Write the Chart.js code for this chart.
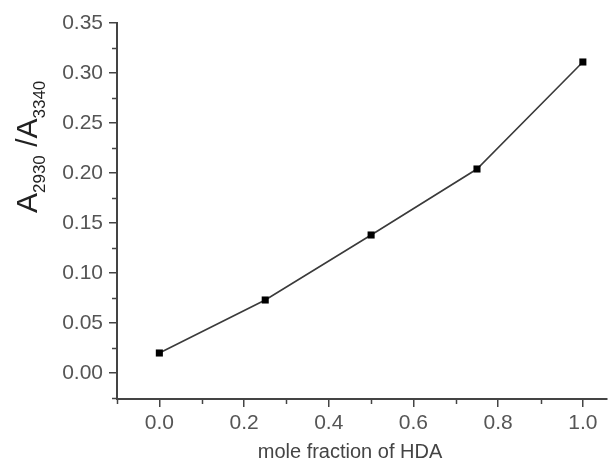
<!DOCTYPE html>
<html><head><meta charset="utf-8">
<script src="https://cdn.jsdelivr.net/npm/chart.js@4/dist/chart.umd.min.js"></script>
<style>html,body{margin:0;padding:0;background:#fff;}#wrap{width:612px;height:461px;position:relative;}</style>
</head><body><div id="wrap"><canvas id="c" width="612" height="461"></canvas></div>
<script>
const moleFraction = [0.0, 0.25, 0.5, 0.75, 1.0];
const ratio = [0.020, 0.073, 0.138, 0.204, 0.311];
const xTicks = [0.0, 0.2, 0.4, 0.6, 0.8, 1.0];
const xMinorTicks = [-0.1, 0.1, 0.3, 0.5, 0.7, 0.9];
const yTicks = [0.00, 0.05, 0.10, 0.15, 0.20, 0.25, 0.30, 0.35];
const yMinorTicks = [-0.025, 0.025, 0.075, 0.125, 0.175, 0.225, 0.275, 0.325];
const xTitle = "mole fraction of HDA";

const FONT = "'Liberation Sans', Arial, sans-serif";
const axisColor = '#444';
const labelColor = '#555';

const extras = {
  id: 'extras',
  afterDraw(chart) {
    const ctx = chart.ctx;
    const xs = chart.scales.x, ys = chart.scales.y;
    ctx.save();
    ctx.strokeStyle = axisColor;
    ctx.lineWidth = 1.5;
    // minor ticks
    yMinorTicks.forEach(v => {
      const y = Math.round(ys.getPixelForValue(v)) + 0.5;
      ctx.beginPath(); ctx.moveTo(xs.left - 5, y); ctx.lineTo(xs.left, y); ctx.stroke();
    });
    xMinorTicks.forEach(v => {
      const x = Math.round(xs.getPixelForValue(v)) + 0.5;
      ctx.beginPath(); ctx.moveTo(x, ys.bottom); ctx.lineTo(x, ys.bottom + 5); ctx.stroke();
    });
    // x title
    ctx.fillStyle = '#444';
    ctx.font = '20px ' + FONT;
    ctx.textAlign = 'center';
    ctx.textBaseline = 'alphabetic';
    ctx.fillText(xTitle, 350, 458);
    // y title with subscripts
    ctx.translate(37, 213);
    ctx.rotate(-Math.PI / 2);
    ctx.fillStyle = '#222';
    ctx.textAlign = 'left';
    let pos = 0;
    const parts = [
      ['A', 30, 0], ['2930', 17, 8], [' /A', 30, 0], ['3340', 17, 8]
    ];
    parts.forEach(([t, s, dy]) => {
      ctx.font = s + 'px ' + FONT;
      ctx.fillText(t, pos, dy);
      pos += ctx.measureText(t).width;
    });
    ctx.restore();
  }
};

new Chart(document.getElementById('c'), {
  type: 'line',
  data: {
    datasets: [{
      data: moleFraction.map((x, i) => ({x: x, y: ratio[i]})),
      borderColor: '#3a3a3a',
      borderWidth: 1.6,
      pointStyle: 'rect',
      pointRadius: 5,
      pointBackgroundColor: '#000',
      pointBorderColor: '#000',
      pointBorderWidth: 0,
      tension: 0,
      clip: false
    }]
  },
  options: {
    responsive: false,
    animation: false,
    devicePixelRatio: 1,
    layout: {padding: {top: 23, right: 0, left: 0, bottom: 0}},
    plugins: {legend: {display: false}, tooltip: {enabled: false}},
    scales: {
      x: {
        type: 'linear', min: -0.1, max: 1.057,
        afterFit(s) { s.height = 62; },
        afterBuildTicks(s) { s.ticks = xTicks.map(v => ({value: v})); },
        grid: {drawOnChartArea: false, drawTicks: true, tickLength: 8, color: axisColor, lineWidth: 1.5},
        border: {display: true, color: axisColor, width: 2},
        ticks: {padding: 4, color: labelColor, font: {family: FONT, size: 21},
          callback: v => Number(v).toFixed(1), maxRotation: 0, autoSkip: false}
      },
      y: {
        type: 'linear', min: -0.026, max: 0.35,
        afterFit(s) { s.width = 117; },
        afterBuildTicks(s) { s.ticks = yTicks.map(v => ({value: v})); },
        grid: {drawOnChartArea: false, drawTicks: true, tickLength: 8, color: axisColor, lineWidth: 1.5},
        border: {display: true, color: axisColor, width: 2},
        ticks: {padding: 6, color: labelColor, font: {family: FONT, size: 21},
          callback: v => Number(v).toFixed(2), autoSkip: false}
      }
    }
  },
  plugins: [extras]
});
</script></body></html>
